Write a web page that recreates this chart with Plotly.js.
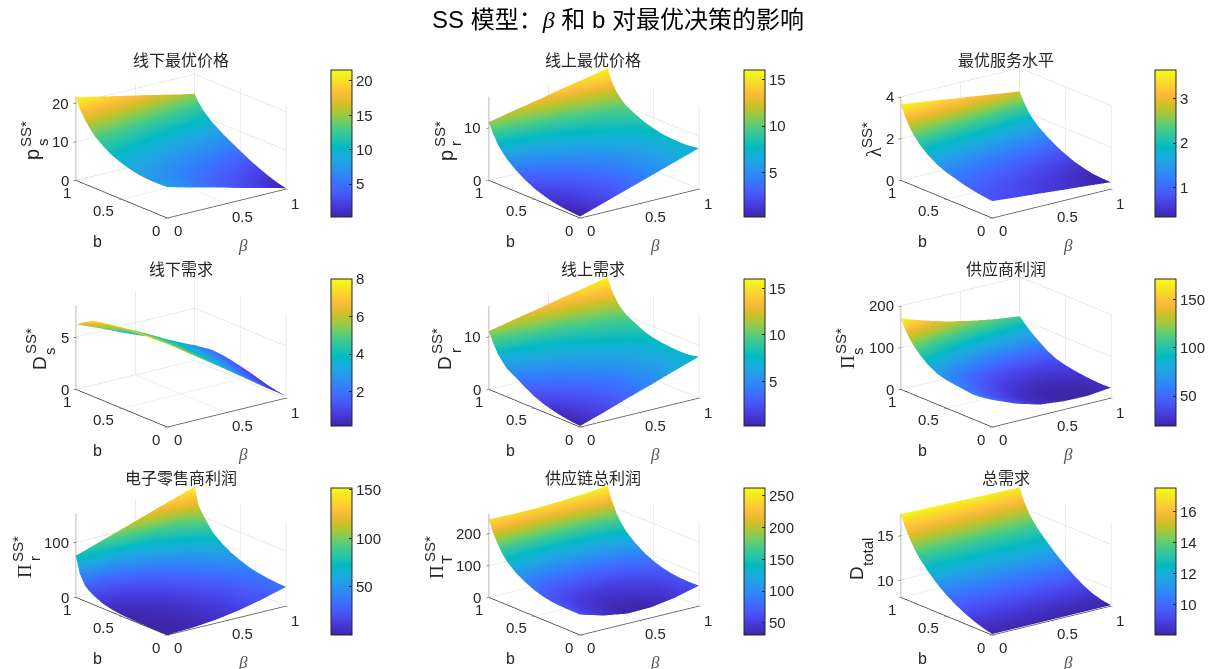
<!DOCTYPE html>
<html>
<head>
<meta charset="utf-8">
<script src="https://cdn.plot.ly/plotly-3.0.1.min.js"></script>
<style>html,body{margin:0;padding:0;background:#fff;overflow:hidden}</style>
</head>
<body>
<div id="chart" style="width:1213px;height:669px"></div>
<script>
const betaGrid = [0, 0.2, 0.4, 0.6, 0.8, 1];
const bGrid = [0, 0.1, 0.2, 0.3, 0.4, 0.5, 0.6, 0.7, 0.8, 0.85, 0.9, 0.96, 1];

const offlinePrice = [
  [8.0, 6.4, 4.9, 3.3, 1.8, 0.2],
  [7.9, 6.5, 5.1, 3.6, 2.2, 0.8],
  [7.9, 6.6, 5.4, 4.1, 2.9, 1.6],
  [8.1, 7.0, 5.9, 4.8, 3.7, 2.6],
  [8.6, 7.6, 6.6, 5.7, 4.7, 3.7],
  [9.3, 8.4, 7.6, 6.7, 5.9, 5.0],
  [10.3, 9.5, 8.7, 7.9, 7.1, 6.3],
  [11.7, 10.9, 10.1, 9.3, 8.5, 7.7],
  [13.6, 12.7, 11.9, 11.0, 10.2, 9.3],
  [15.0, 14.1, 13.1, 12.2, 11.2, 10.3],
  [16.6, 15.6, 14.5, 13.5, 12.4, 11.4],
  [18.9, 17.8, 16.6, 15.5, 14.3, 13.2],
  [21.6, 20.2, 18.9, 17.6, 16.2, 14.9]
];
const onlinePrice = [
  [0.3, 1.8, 3.3, 4.8, 6.3, 7.8],
  [0.4, 1.8, 3.2, 4.7, 6.1, 7.5],
  [0.6, 2.0, 3.3, 4.7, 6.0, 7.4],
  [0.9, 2.2, 3.5, 4.8, 6.2, 7.45],
  [1.4, 2.6, 3.9, 5.1, 6.4, 7.6],
  [2.0, 3.2, 4.4, 5.6, 6.8, 8.0],
  [2.9, 4.0, 5.1, 6.3, 7.4, 8.5],
  [4.0, 5.1, 6.1, 7.2, 8.2, 9.3],
  [5.4, 6.4, 7.3, 8.3, 9.2, 10.2],
  [6.4, 7.3, 8.2, 9.2, 10.1, 11.0],
  [7.5, 8.4, 9.3, 10.2, 11.1, 12.0],
  [9.4, 10.3, 11.2, 12.0, 12.9, 13.8],
  [11.1, 12.1, 13.0, 14.0, 14.9, 15.9]
];
const serviceLevel = [
  [0.81, 0.71, 0.62, 0.52, 0.43, 0.33],
  [0.86, 0.76, 0.65, 0.55, 0.44, 0.34],
  [0.93, 0.82, 0.71, 0.59, 0.48, 0.37],
  [1.02, 0.91, 0.80, 0.69, 0.58, 0.47],
  [1.15, 1.04, 0.93, 0.81, 0.70, 0.59],
  [1.28, 1.18, 1.08, 0.97, 0.87, 0.77],
  [1.46, 1.37, 1.27, 1.18, 1.08, 0.99],
  [1.74, 1.64, 1.55, 1.45, 1.36, 1.26],
  [2.11, 2.00, 1.90, 1.79, 1.69, 1.58],
  [2.38, 2.27, 2.16, 2.04, 1.92, 1.80],
  [2.67, 2.56, 2.44, 2.33, 2.17, 2.05],
  [3.20, 3.06, 2.92, 2.78, 2.64, 2.50],
  [3.65, 3.50, 3.34, 3.19, 3.03, 2.88]
];
const offlineDemand = [
  [8.0, 6.4, 4.9, 3.3, 1.7, 0.18],
  [7.98, 6.45, 4.9, 3.4, 1.86, 0.33],
  [7.95, 6.5, 5.0, 3.5, 2.0, 0.52],
  [7.88, 6.46, 5.04, 3.62, 2.2, 0.78],
  [7.78, 6.4, 5.1, 3.7, 2.4, 1.05],
  [7.68, 6.4, 5.1, 3.8, 2.55, 1.27],
  [7.58, 6.4, 5.1, 3.9, 2.7, 1.47],
  [7.46, 6.3, 5.1, 3.96, 2.8, 1.62],
  [7.29, 6.2, 5.1, 3.9, 2.8, 1.7],
  [7.07, 6.0, 4.9, 3.8, 2.74, 1.66],
  [6.83, 5.8, 4.7, 3.7, 2.6, 1.57],
  [6.47, 5.5, 4.5, 3.5, 2.5, 1.5],
  [6.24, 5.3, 4.3, 3.4, 2.4, 1.47]
];
const onlineDemand = [
  [0.2, 1.7, 3.3, 4.8, 6.4, 7.9],
  [0.35, 1.8, 3.2, 4.6, 6.1, 7.5],
  [0.6, 2.0, 3.3, 4.7, 6.0, 7.4],
  [1.0, 2.3, 3.6, 4.8, 6.1, 7.45],
  [1.5, 2.7, 3.9, 5.2, 6.4, 7.6],
  [2.2, 3.3, 4.5, 5.6, 6.8, 7.9],
  [3.2, 4.2, 5.2, 6.3, 7.3, 8.4],
  [4.3, 5.3, 6.3, 7.3, 8.3, 9.3],
  [5.3, 6.3, 7.3, 8.2, 9.2, 10.2],
  [6.3, 7.2, 8.1, 9.1, 10.0, 11.0],
  [7.4, 8.3, 9.2, 10.1, 11.1, 12.0],
  [9.4, 10.3, 11.2, 12.0, 12.9, 13.8],
  [11.1, 12.1, 13.0, 14.0, 14.9, 15.9]
];
const supplierProfit = [
  [65, 42, 26, 20, 19, 25],
  [61, 39.5, 25, 19.5, 19, 24],
  [59, 38.5, 25, 20, 19.5, 25],
  [61, 41, 28, 22, 22, 27],
  [64, 45, 32, 26, 25, 30],
  [67, 50, 38, 31.5, 30, 34],
  [73, 56, 45, 38, 37, 40],
  [85, 70, 59, 52, 49, 51],
  [103, 88, 76, 69, 66, 67],
  [115, 100, 88, 80, 76, 75],
  [128, 112, 100, 91, 86, 84],
  [151, 134, 119, 109, 102, 97],
  [170, 151, 135, 123, 113, 106]
];
const retailerProfit = [
  [0.5, 1.9, 6, 13, 23, 35],
  [0.6, 2.1, 6.4, 13.7, 24, 35.5],
  [0.8, 2.4, 7, 14.5, 25, 37],
  [1.1, 3.1, 8, 16, 27, 39.5],
  [1.5, 4, 9.5, 18, 29.5, 43],
  [2.6, 5.5, 11.5, 21, 34, 49],
  [4.5, 8, 15, 26, 40, 56],
  [8.5, 12.5, 20, 32, 48, 66],
  [16, 19, 28, 41, 58, 79],
  [21, 25, 35, 49, 68, 90],
  [28, 33, 44, 59, 79, 102],
  [47, 52, 62, 77, 96, 118],
  [76, 90.6, 105, 120, 134.6, 149]
];
const chainProfit = [
  [64, 43, 31, 33, 45, 64],
  [64, 44.5, 34, 35, 46, 63],
  [65, 46.5, 38, 38, 47, 64],
  [67, 50, 42, 43, 51, 67],
  [72, 56, 48, 49, 57, 73],
  [81, 67, 61, 62, 69, 83],
  [94, 82, 77, 78, 84, 97],
  [111, 101, 98, 100, 106, 116],
  [135, 126, 123, 125, 130, 141],
  [153, 146, 143, 145, 150, 160],
  [176, 170, 167, 168, 173, 183],
  [212, 208, 207, 209, 214, 222],
  [245, 243.5, 244, 247, 252.5, 260]
];
const totalDemand = [
  [8.15, 8.15, 8.15, 8.15, 8.15, 8.15],
  [8.4, 8.38, 8.36, 8.34, 8.32, 8.3],
  [8.75, 8.72, 8.69, 8.66, 8.63, 8.6],
  [9.2, 9.18, 9.16, 9.14, 9.12, 9.1],
  [9.75, 9.75, 9.75, 9.75, 9.75, 9.75],
  [10.4, 10.42, 10.44, 10.46, 10.48, 10.5],
  [11.2, 11.23, 11.26, 11.29, 11.32, 11.35],
  [12.2, 12.22, 12.24, 12.26, 12.28, 12.3],
  [13.35, 13.35, 13.35, 13.35, 13.35, 13.35],
  [14.1, 14.08, 14.06, 14.04, 14.02, 14],
  [15, 14.95, 14.9, 14.85, 14.8, 14.75],
  [16.3, 16.24, 16.18, 16.12, 16.06, 16],
  [17.45, 17.4, 17.35, 17.3, 17.25, 17.2]
];

const panelTitles = ['线下最优价格','线上最优价格','最优服务水平','线下需求','线上需求','供应商利润','电子零售商利润','供应链总利润','总需求'];
const panelValues = [offlinePrice, onlinePrice, serviceLevel, offlineDemand, onlineDemand, supplierProfit, retailerProfit, chainProfit, totalDemand];
const zRanges = [[0,21.6],[0,15.9],[0,4],[0,8],[0,15.9],[0,200],[0,152],[0,262],[8.04,17.46]];
const zTicks = [[0,10,20],[0,10],[0,2,4],[0,5],[0,10],[0,100,200],[0,100],[0,100,200],[10,15]];
const colorRanges = [[0.2,21.6],[0.3,16],[0.33,3.65],[0.18,8],[0.2,16],[19,171],[0.5,152],[31,262],[8.07,17.5]];
const colorTicks = [[5,10,15,20],[5,10,15],[1,2,3],[2,4,6,8],[5,10,15],[50,100,150],[50,100,150],[50,100,150,200,250],[10,12,14,16]];
const axisTicks = [0, 0.5, 1];
const axisTickLabels = ['0', '0.5', '1'];
const mainTitle = 'SS 模型：<span style="font-family:\'Liberation Serif\'"><i>β</i></span> 和 b 对最优决策的影响';
const SERIF = "'Liberation Serif',serif";
// z-label pieces: [text, pixel x, pixel y, size, serif?]
const zLabelParts = [
  [['p',32,155,20],['SS*',25,134,15],['s',42,142,15]],
  [['p',446,155,20],['SS*',439,134,15],['r',456,144,15]],
  [['λ',874,152,20,1],['SS*',866,135,15]],
  [['D',39,363,19],['SS*',31,341,15],['s',49,351,15]],
  [['D',444,363,19],['SS*',437,341,15],['r',455,351,15]],
  [['Π',847,362,19,1],['SS*',841,341,15],['s',857,351,15]],
  [['Π',24,571,19,1],['SS*',17,549,15],['r',34,559,15]],
  [['Π',436,572,19,1],['SS*',429,549,15],['T',446,559,15]],
  [['D',856,573,19],['total',867,552,15]]
];

const parula = [
 [0.2422,0.1504,0.6603],[0.2647,0.1978,0.7952],[0.2783,0.2559,0.8991],[0.2810,0.3228,0.9579],
 [0.2699,0.3892,0.9906],[0.2206,0.4603,0.9973],[0.1786,0.5289,0.9682],[0.1540,0.5902,0.9218],
 [0.1248,0.6459,0.8883],[0.0689,0.6948,0.8394],[0.0067,0.7312,0.7660],[0.1408,0.7584,0.6842],
 [0.2161,0.7843,0.5923],[0.3406,0.8008,0.4789],[0.5044,0.7993,0.3480],[0.6720,0.7793,0.2227],
 [0.8203,0.7498,0.1535],[0.9393,0.7288,0.2100],[0.9970,0.7659,0.2199],[0.9786,0.8386,0.1766],
 [0.9597,0.9135,0.1423],[0.9769,0.9839,0.0805]
];
const parulaScale = parula.map((c,i)=>[i/(parula.length-1),
  'rgb('+c.map(v=>Math.round(v*255)).join(',')+')']);

const W = 1213, H = 669;
const SANS = "'Liberation Sans','Noto Sans CJK SC',Arial,sans-serif";
const INK = '#262626';
const colX = [0, 412.5, 825], rowY = [0, 209, 417];
const CUBE_W = 300, CUBE_H = 200, CX = 181, CY = 143;
const BAR_X = [331, 743.5, 1155], BAR_Y = [70, 279, 488];
const TITLE_X = [181, 593, 1006], TITLE_Y = [60, 269, 478];

const axisBase = {
  showbackground:false, showgrid:true, gridcolor:'#d6d6d6', gridwidth:1,
  zeroline:false, showline:true, linecolor:INK, linewidth:1.5,
  ticks:'outside', ticklen:3, tickcolor:INK, showticklabels:false,
  showspikes:false, title:{text:''}
};
const tickFont = {family:SANS, size:15, color:INK};

const data = [], layout = {
  width:W, height:H, autosize:false, margin:{l:0,r:0,t:0,b:0}, paper_bgcolor:'#fff',
  title:{text:mainTitle, x:618/W, xanchor:'center', y:1-20/H, yanchor:'middle', font:{family:SANS, size:24, color:'#000'}},
  annotations:[]
};

panelValues.forEach((z,k)=>{
  const col = k%3, row = Math.floor(k/3);
  const id = k===0 ? 'scene' : 'scene'+(k+1);
  const cx = CX+colX[col], cy = CY+rowY[row];
  const zr = zRanges[k];
  const cr = colorRanges[k];
  data.push({
    type:'surface', scene:id, x:betaGrid, y:bGrid, z:z,
    colorscale:parulaScale, cmin:cr[0], cmax:cr[1], hoverinfo:'skip',
    lighting:{ambient:1,diffuse:0,specular:0,roughness:1,fresnel:0},
    contours:{x:{show:false},y:{show:false},z:{show:false}},
    colorbar:{
      x:BAR_X[col]/W, xanchor:'left', xpad:0, y:1-BAR_Y[row]/H, yanchor:'top', ypad:0,
      thicknessmode:'pixels', thickness:21, lenmode:'pixels', len:147,
      outlinecolor:INK, outlinewidth:1, ticks:'inside', ticklen:3, tickcolor:INK,
      tickmode:'array', tickvals:colorTicks[k], ticktext:colorTicks[k].map(String),
      tickfont:tickFont
    }
  });
  const sceneAnn = [];
  const xOff = [[11,12],[16,12.5],[9,14]], yOff = [[-11,12],[-18,11.5],[-9,12]];
  axisTicks.forEach((t,i)=>{
    sceneAnn.push({x:t,y:0,z:zr[0],text:axisTickLabels[i],showarrow:false,xanchor:'center',yanchor:'middle',
      xshift:xOff[i][0],yshift:-xOff[i][1],font:tickFont});
    sceneAnn.push({x:0,y:t,z:zr[0],text:axisTickLabels[i],showarrow:false,xanchor:'center',yanchor:'middle',
      xshift:yOff[i][0],yshift:-yOff[i][1],font:tickFont});
  });
  zTicks[k].forEach(t=>{
    sceneAnn.push({x:0,y:1,z:t,text:String(t),showarrow:false,xanchor:'right',yanchor:'middle',
      xshift:-5,font:tickFont});
  });
  sceneAnn.push({x:0,y:0.5,z:zr[0],text:'b',showarrow:false,xanchor:'center',yanchor:'middle',
    xshift:-24,yshift:-42,font:{family:SANS,size:16,color:INK}});
  sceneAnn.push({x:0.5,y:0,z:zr[0],text:'<i>β</i>',showarrow:false,xanchor:'center',yanchor:'middle',
    xshift:16,yshift:-42,font:{family:SERIF,size:17,color:'#555'}});

  layout[id] = {
    domain:{x:[(cx-CUBE_W/2)/W,(cx+CUBE_W/2)/W], y:[1-(cy+CUBE_H/2)/H,1-(cy-CUBE_H/2)/H]},
    aspectmode:'manual', aspectratio:{x:1.5,y:1.5,z:0.88},
    camera:{projection:{type:'orthographic'}, up:{x:0,y:0,z:1}, center:{x:0,y:0,z:0},
      eye:{x:-0.93,y:-1.21,z:0.51}},
    xaxis:Object.assign({},axisBase,{range:[0,1],tickmode:'array',tickvals:axisTicks}),
    yaxis:Object.assign({},axisBase,{range:[0,1],tickmode:'array',tickvals:axisTicks}),
    zaxis:Object.assign({},axisBase,{range:zr,tickmode:'array',tickvals:zTicks[k]}),
    annotations:sceneAnn
  };
  layout.annotations.push({xref:'paper',yref:'paper',x:TITLE_X[col]/W,y:1-TITLE_Y[row]/H,
    text:panelTitles[k],showarrow:false,xanchor:'center',yanchor:'middle',
    font:{family:SANS,size:16,color:INK}});
  zLabelParts[k].forEach(p=>{
    layout.annotations.push({xref:'paper',yref:'paper',x:p[1]/W,y:1-p[2]/H,text:p[0],showarrow:false,
      textangle:-90,xanchor:'center',yanchor:'middle',font:{family:p[4]?SERIF:SANS,size:p[3],color:INK}});
  });
});

Plotly.newPlot('chart', data, layout, {displayModeBar:false, responsive:false});
</script>
</body>
</html>
